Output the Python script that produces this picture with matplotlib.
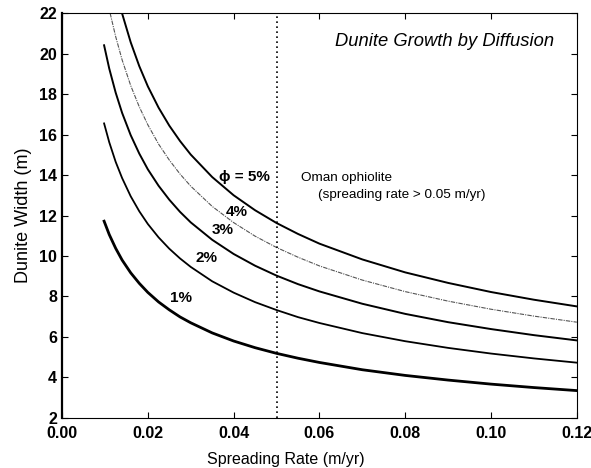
import matplotlib
matplotlib.use('Agg')
import matplotlib.pyplot as plt

plt.rcParams['font.family'] = ['Liberation Sans', 'DejaVu Sans']

# spreading rate (m/yr) and dunite width (m)
rate = [0.0098, 0.011, 0.0125, 0.014, 0.016, 0.018, 0.02, 0.0225, 0.025, 0.0275,
        0.03, 0.035, 0.04, 0.045, 0.05, 0.055, 0.06, 0.07, 0.08, 0.09, 0.10, 0.11, 0.12]
w1 = [11.72, 11.06, 10.38, 9.80, 9.17, 8.65, 8.20, 7.73, 7.34, 6.99, 6.70, 6.20,
      5.80, 5.47, 5.19, 4.95, 4.74, 4.38, 4.10, 3.87, 3.67, 3.50, 3.35]
w2 = [16.55, 15.62, 14.65, 13.85, 12.95, 12.21, 11.58, 10.92, 10.36, 9.88, 9.46, 8.75,
      8.19, 7.72, 7.33, 6.98, 6.69, 6.19, 5.79, 5.46, 5.18, 4.94, 4.73]
w3 = [20.41, 19.26, 18.07, 17.07, 15.97, 15.06, 14.28, 13.47, 12.78, 12.18, 11.66, 10.80,
      10.10, 9.52, 9.03, 8.61, 8.25, 7.64, 7.14, 6.73, 6.39, 6.09, 5.83]

rate4 = [0.0112, 0.0125, 0.014, 0.016, 0.018, 0.02, 0.0225, 0.025, 0.0275, 0.03, 0.035,
         0.04, 0.045, 0.05, 0.055, 0.06, 0.07, 0.08, 0.09, 0.10, 0.11, 0.12]
w4 = [22.0, 20.84, 19.69, 18.42, 17.37, 16.48, 15.53, 14.74, 14.05, 13.45, 12.45,
      11.65, 10.98, 10.42, 9.94, 9.51, 8.81, 8.24, 7.77, 7.37, 7.03, 6.73]

rate5 = [0.014, 0.016, 0.018, 0.02, 0.0225, 0.025, 0.0275, 0.03, 0.035, 0.04, 0.045,
         0.05, 0.055, 0.06, 0.07, 0.08, 0.09, 0.10, 0.11, 0.12]
w5 = [21.98, 20.56, 19.38, 18.38, 17.33, 16.44, 15.68, 15.01, 13.90, 13.0, 12.26,
      11.63, 11.09, 10.61, 9.83, 9.19, 8.67, 8.22, 7.84, 7.51]

fig = plt.figure(figsize=(5.91, 4.68), dpi=100)
ax = fig.add_axes([0.105, 0.107, 0.871, 0.865])

ax.plot(rate, w1, color='black', linewidth=2.0)
ax.plot(rate, w2, color='black', linewidth=1.3)
ax.plot(rate, w3, color='black', linewidth=1.4)
ax.plot(rate4, w4, color='#555555', linewidth=0.8, linestyle=(0, (4, 1, 1, 1)))
ax.plot(rate5, w5, color='black', linewidth=1.4)

# Oman ophiolite spreading rate
ax.axvline(0.05, color='black', linestyle=(0, (1, 2)), linewidth=1.2)

lbl = dict(fontsize=11, fontweight='bold', ha='center', va='center')
ax.text(0.0426, 13.9, '\u03d5 = 5%', **lbl)
ax.text(0.0408, 12.17, '4%', **lbl)
ax.text(0.0375, 11.28, '3%', **lbl)
ax.text(0.0336, 9.92, '2%', **lbl)
ax.text(0.0277, 7.93, '1%', **lbl)

ax.text(0.0558, 13.85, 'Oman ophiolite', fontsize=9.7, va='center')
ax.text(0.0596, 13.0, '(spreading rate > 0.05 m/yr)', fontsize=9.7, va='center')
ax.text(0.955, 0.93, 'Dunite Growth by Diffusion', transform=ax.transAxes,
        fontsize=13.2, fontstyle='italic', ha='right', va='center')

ax.set_xlim(0, 0.12)
ax.set_ylim(2, 22)
ax.set_xticks([0.0, 0.02, 0.04, 0.06, 0.08, 0.10, 0.12])
ax.set_xticklabels(['0.00', '0.02', '0.04', '0.06', '0.08', '0.10', '0.12'])
ax.set_yticks(range(2, 23, 2))
ax.tick_params(direction='in', top=True, right=True, length=4, labelsize=11.5)
ax.tick_params(axis='x', pad=6)
for t in ax.get_xticklabels() + ax.get_yticklabels():
    t.set_fontweight('bold')
ax.set_xlabel('Spreading Rate (m/yr)', fontsize=11.5, labelpad=7)
ax.xaxis.set_label_coords(0.435, -0.085)
ax.set_ylabel('Dunite Width (m)', fontsize=13, labelpad=5)
for s in ax.spines.values():
    s.set_linewidth(0.8)
ax.spines['left'].set_linewidth(1.6)

fig.savefig('out.png', dpi=100)
